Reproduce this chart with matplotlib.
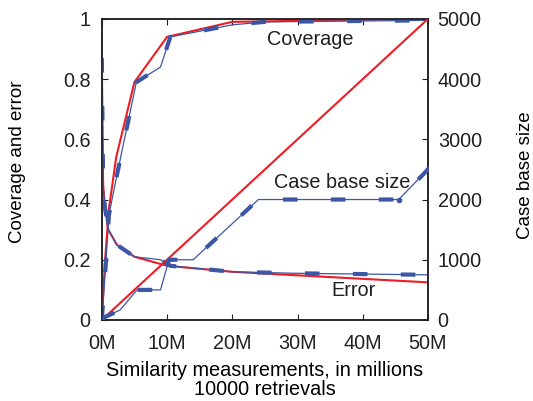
import matplotlib
matplotlib.use("Agg")
import matplotlib.pyplot as plt
from matplotlib.ticker import FuncFormatter

plt.rcParams['font.family'] = ['Liberation Sans', 'DejaVu Sans']
plt.rcParams['text.color'] = '#231f20'
plt.rcParams['xtick.color'] = '#231f20'
plt.rcParams['ytick.color'] = '#231f20'

# Data (x in millions of similarity measurements)
cov_red_x = [0, 0.5, 1.1, 2.2, 5, 10, 20, 50]
cov_red_y = [0, 0.2, 0.37, 0.54, 0.79, 0.94, 0.99, 1.0]
cov_blue_x = [0, 0.5, 1.1, 2.5, 5.3, 9, 10.5, 20, 25, 50]
cov_blue_y = [0, 0.15, 0.35, 0.5, 0.79, 0.84, 0.94, 0.98, 0.99, 0.995]

err_red_x = [0, 0.2, 0.5, 1, 2.3, 5, 10, 20, 50]
err_red_y = [0.87, 0.45, 0.37, 0.3, 0.25, 0.21, 0.18, 0.16, 0.125]
err_blue_x = [0, 0.2, 0.5, 1, 2.3, 5, 9, 10.5, 20, 30, 50]
err_blue_y = [0.87, 0.45, 0.37, 0.3, 0.25, 0.21, 0.2, 0.18, 0.16, 0.155, 0.15]

cb_red_x = [0, 50]
cb_red_y = [0, 5000]
cb_blue_x = [0, 0.5, 2.8, 5.4, 9, 10.3, 14, 24, 45.5, 50]
cb_blue_y = [0, 50, 166, 500, 500, 1000, 1000, 2000, 2000, 2500]

xticks = [0, 10, 20, 30, 40, 50]
yticks_left = [0, 0.2, 0.4, 0.6, 0.8, 1]
yticks_right = [0, 1000, 2000, 3000, 4000, 5000]

RED = '#ee1c25'
BLUE = '#3b56a5'
FS = 14.3
FSL = 13.5

fig = plt.figure(figsize=(5.33, 4.01), dpi=100)
ax = fig.add_axes([0.191, 0.202, 0.612, 0.751])
ax2 = ax.twinx()

# Case base size on right axis
ax2.plot(cb_red_x, cb_red_y, color=RED, lw=1.5, zorder=3)
ax2.plot(cb_blue_x, cb_blue_y, color=BLUE, lw=0.9, zorder=4)
ax2.plot(cb_blue_x, cb_blue_y, color=BLUE, lw=3, dashes=(3.5, 8), zorder=4)
ax2.plot([cb_blue_x[-2], cb_blue_x[-1]], [cb_blue_y[-2], cb_blue_y[-1]], 'o', color=BLUE, ms=3, zorder=5)

# Coverage and error on left axis
for xs, ys in [(cov_red_x, cov_red_y), (err_red_x, err_red_y)]:
    ax.plot(xs, ys, color=RED, lw=1.5, zorder=3)
for xs, ys in [(cov_blue_x, cov_blue_y), (err_blue_x, err_blue_y)]:
    ax.plot(xs, ys, color=BLUE, lw=0.9, zorder=4)
    ax.plot(xs, ys, color=BLUE, lw=3, dashes=(3.5, 8), zorder=4)

ax.set_xlim(0, 50)
ax.set_ylim(0, 1)
ax2.set_ylim(0, 5000)
ax.set_xticks(xticks)
ax.xaxis.set_major_formatter(FuncFormatter(lambda v, p: f"{int(v)}M"))
ax.set_yticks(yticks_left)
ax.yaxis.set_major_formatter(FuncFormatter(lambda v, p: "0" if v == 0 else ("1" if v == 1 else f"{v:.1f}")))
ax2.set_yticks(yticks_right)

ax.tick_params(axis='x', direction='in', top=True, labelsize=FS, length=4, pad=10)
ax.tick_params(axis='y', direction='in', right=False, labelsize=FS, length=4, pad=8)
ax2.tick_params(axis='y', direction='in', labelsize=FS, length=4, pad=7)

ax.set_xlabel("Similarity measurements, in millions\n10000 retrievals", fontsize=FS, labelpad=6, linespacing=0.98)
ax.set_ylabel("Coverage and error", fontsize=FSL)
ax2.set_ylabel("Case base size", fontsize=FSL)
ax.yaxis.set_label_coords(-0.232, 0.525)
ax2.yaxis.set_label_coords(1.272, 0.48)

ax.text(31.9, 0.93, "Coverage", fontsize=FS, ha='center', va='center')
ax.text(36.8, 0.455, "Case base size", fontsize=FS, ha='center', va='center')
ax.text(38.6, 0.097, "Error", fontsize=FS, ha='center', va='center')

for a in (ax, ax2):
    for s in a.spines.values():
        s.set_linewidth(1.1)
        s.set_color('#231f20')

fig.savefig("out.png", dpi=100)
